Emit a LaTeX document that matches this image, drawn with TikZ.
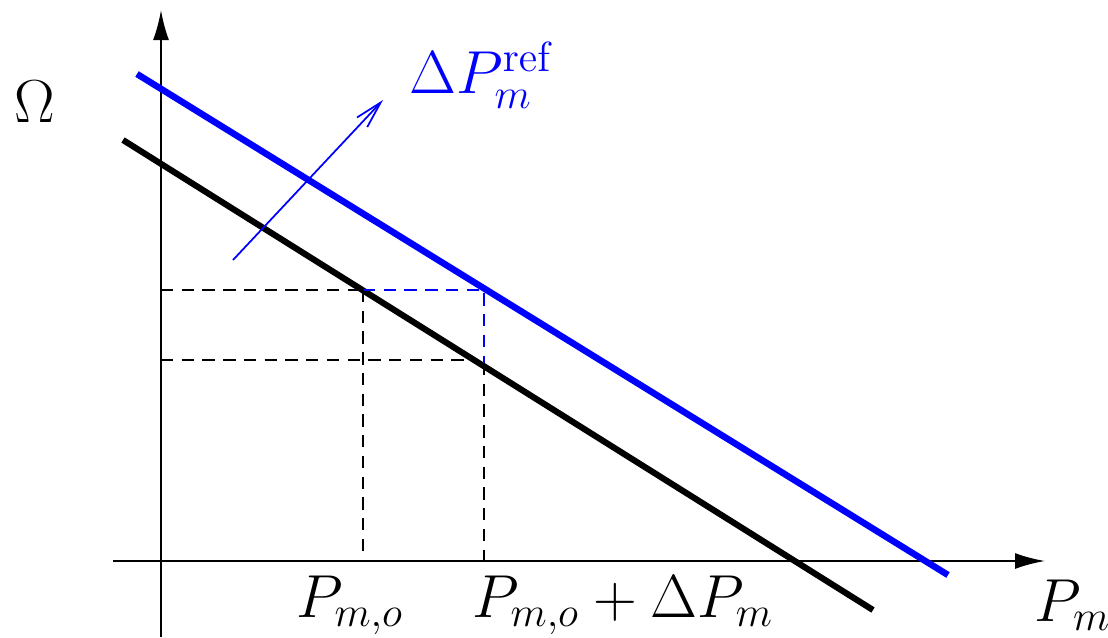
\documentclass[tikz,border=0pt]{standalone}
\usepackage{amsmath,amssymb}
\usetikzlibrary{arrows.meta}
\newcommand{\labelsize}{\fontsize{16.4}{19}\selectfont}
\tikzset{
 every node/.append style={font=\labelsize,inner sep=1pt},
 axis/.style={-{Latex[length=3mm,width=1.6mm]},line width=.6pt},
 curve/.style={line width=1.75pt},
 shifted/.style={curve,draw=blue,line width=1.85pt},
 guide/.style={line width=.45pt,dash pattern=on 3.5pt off 2.4pt},
 push/.style={-{Straight Barb[length=2.7mm,width=1.4mm]},draw=blue,line width=.5pt},
}

\begin{document}
\begin{tikzpicture}

\useasboundingbox (0,0) rectangle (11.08,-6.37);
% axes
\coordinate (ybot) at (1.61,-6.37);
\coordinate (ytop) at (1.61,-0.10);
\coordinate (xleft) at (1.13,-5.61);
\coordinate (xright) at (10.45,-5.61);
\draw[axis] (ybot) -- (ytop);
\draw[axis] (xleft) -- (xright);
% characteristics
\coordinate (k0) at (1.23,-1.40);
\coordinate (k1) at (8.73,-6.10);
\coordinate (s0) at (1.37,-0.74);
\coordinate (s1) at (9.48,-5.75);
\draw[curve] (k0) -- (k1);
\draw[shifted] (s0) -- (s1);
% operating points
\coordinate (op) at (3.63,-2.90);
\coordinate (opnew) at (4.84,-2.90);
\coordinate (opcut) at (4.84,-3.63);
\coordinate (omlow) at (1.61,-3.60);
\coordinate (omlowend) at (4.71,-3.60);
\draw[guide] (1.61,-2.90) -- (op);
\draw[guide,draw=blue] (op) -- (opnew) -- (opcut);
\draw[guide] (opcut) -- (4.84,-5.61);
\draw[guide] (op) -- (3.63,-5.61);
\draw[guide] (omlow) -- (omlowend);
% shift arrow
\coordinate (pushfrom) at (2.33,-2.60);
\coordinate (pushto) at (3.83,-1.00);
\draw[push] (pushfrom) -- (pushto);
% labels
\node (omega) at (0.35,-1.02) {$\Omega$};
\node[text=blue] (dpref) at (4.82,-0.75) {$\Delta P_m^{\mathrm{ref}}$};
\node (pmo) at (3.50,-6.05) {$P_{m,o}$};
\node (pmod) at (6.23,-6.05) {$P_{m,o}+\Delta P_m$};
\node (pm) at (10.73,-6.05) {$P_m$};

\end{tikzpicture}
\end{document}
